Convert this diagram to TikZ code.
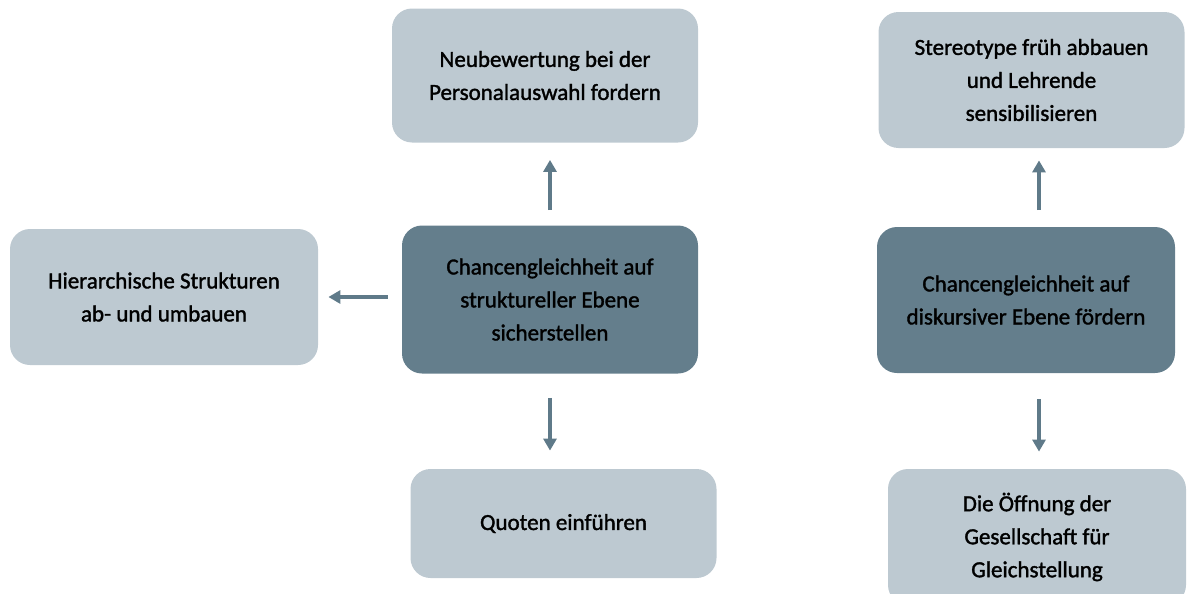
\documentclass[tikz,border=0pt]{standalone}
\usepackage{fontspec}
\setmainfont{Carlito}[FakeBold=1.5]
\usetikzlibrary{arrows.meta}
\definecolor{boxdark}{RGB}{100,126,140}
\definecolor{boxlight}{RGB}{189,201,209}
\definecolor{arrcol}{RGB}{95,122,137}
\begin{document}
\begin{tikzpicture}[x=0.5pt, y=-0.5pt,
    lite/.style={rectangle, rounded corners=10pt, fill=boxlight, minimum width=153pt, minimum height=67pt, align=center, font=\fontsize{11.5}{16.5}\selectfont},
    dark/.style={lite, fill=boxdark, minimum width=148pt, minimum height=74pt},
    arr/.style={-{Triangle[width=6.5pt,length=6pt]}, draw=arrcol, line width=1.6pt}
]
    \useasboundingbox (0,0) rectangle (1189,594);
    \clip (0,0) rectangle (1189,594);

    % linke Seite: strukturelle Ebene
    \node[dark] (struk) at (550,299.5) {Chancengleichheit auf\\struktureller Ebene\\sicherstellen};
    \node[lite] (neu) at (545,75.5) {Neubewertung bei der\\Personalauswahl fordern};
    \node[lite, minimum width=154pt, minimum height=68pt] (hier) at (164,297) {Hierarchische Strukturen\\ab- und umbauen};
    \node[lite, minimum height=54.5pt] (quote) at (563.5,523.5) {Quoten einführen};
    \draw[arr, shorten <=7.5pt, shorten >=8.5pt] (struk.north) -- (struk.north |- neu.south);
    \draw[arr, shorten <=7pt, shorten >=5pt] (hier.east -| struk.west) -- (hier.east);
    \draw[arr, shorten <=12pt, shorten >=9pt] (struk.south) -- (struk.south |- quote.north);

    % rechte Seite: diskursive Ebene
    \node[dark, minimum width=149pt, minimum height=73pt] (disk) at (1026,300) {Chancengleichheit auf\\diskursiver Ebene fördern};
    \node[lite, minimum height=68pt] (stereo) at (1031.5,80) {Stereotype früh abbauen\\und Lehrende\\sensibilisieren};
    \node[lite, minimum width=149pt, minimum height=68pt] (oeff) at (1037,537) {Die Öffnung der\\Gesellschaft für\\Gleichstellung};
    \coordinate (dtop) at (1039,227);
    \coordinate (dbot) at (1039,373);
    \draw[arr, shorten <=8.5pt, shorten >=6pt] (dtop) -- (dtop |- stereo.south);
    \draw[arr, shorten <=13pt, shorten >=8.5pt] (dbot) -- (dbot |- oeff.north);
\end{tikzpicture}
\end{document}
